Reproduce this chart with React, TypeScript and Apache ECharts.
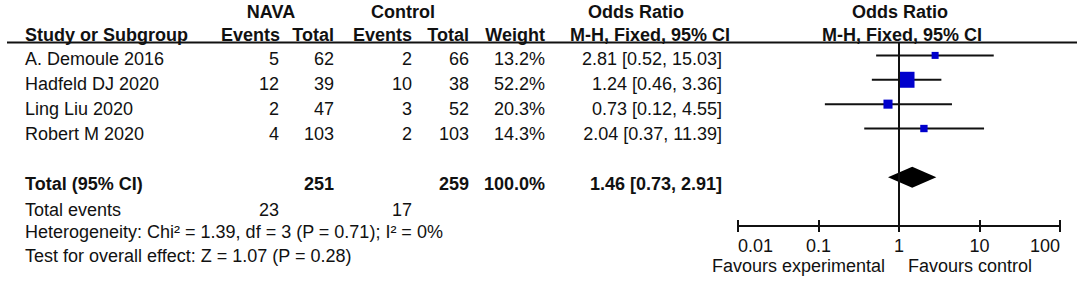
import React, { useEffect, useRef } from "react";
import * as echarts from "echarts";

const studies = ["A. Demoule 2016", "Hadfeld DJ 2020", "Ling Liu 2020", "Robert M 2020"];
const navaEvents = [5, 12, 2, 4];
const navaTotal = [62, 39, 47, 103];
const ctrlEvents = [2, 10, 3, 2];
const ctrlTotal = [66, 38, 52, 103];
const weights = [13.2, 52.2, 20.3, 14.3];
const oddsRatio = [2.81, 1.24, 0.73, 2.04];
const ciLow = [0.52, 0.46, 0.12, 0.37];
const ciHigh = [15.03, 3.36, 4.55, 11.39];
const studyRows = [0, 1, 2, 3];

const totalNava = 251;
const totalCtrl = 259;
const totalWeight = "100.0%";
const pooled = [1.46, 0.73, 2.91];
const pooledRow = 5;
const totalEventsNava = 23;
const totalEventsCtrl = 17;
const heterogeneity = "Heterogeneity: Chi² = 1.39, df = 3 (P = 0.71); I² = 0%";
const overallTest = "Test for overall effect: Z = 1.07 (P = 0.28)";
const tickLabels = ["0.01", "0.1", "1", "10", "100"];
const favourLeft = "Favours experimental";
const favourRight = "Favours control";

const FONT = "'Liberation Sans', Arial, sans-serif";
const TXT = "#111";

function T(x: number, y: number, text: string, align: string = "left", bold = false) {
  return {
    type: "text",
    x,
    y,
    silent: true,
    style: {
      text,
      fill: TXT,
      font: `${bold ? "bold " : ""}18px ${FONT}`,
      textAlign: align,
      textVerticalAlign: "middle",
    },
  };
}

const fmt = (v: number) => v.toFixed(2);
const ciText = (o: number, l: number, h: number) => `${fmt(o)} [${fmt(l)}, ${fmt(h)}]`;

export default function App() {
  const ref = useRef<HTMLDivElement>(null);
  useEffect(() => {
    if (!ref.current) return;
    const chart = echarts.init(ref.current, null, { renderer: "svg" });

    const graphics: any[] = [];
    graphics.push(T(271, 12, "NAVA", "center", true));
    graphics.push(T(403, 12, "Control", "center", true));
    graphics.push(T(636, 12, "Odds Ratio", "center", true));
    graphics.push(T(900, 12, "Odds Ratio", "center", true));
    graphics.push(T(25, 35, "Study or Subgroup", "left", true));
    graphics.push(T(280, 35, "Events", "right", true));
    graphics.push(T(334, 35, "Total", "right", true));
    graphics.push(T(412, 35, "Events", "right", true));
    graphics.push(T(469, 35, "Total", "right", true));
    graphics.push(T(545, 35, "Weight", "right", true));
    graphics.push(T(570, 35, "M-H, Fixed, 95% CI", "left", true));
    graphics.push(T(902, 35, "M-H, Fixed, 95% CI", "center", true));
    graphics.push({
      type: "line",
      silent: true,
      shape: { x1: 7, y1: 42.5, x2: 1077, y2: 42.5 },
      style: { stroke: "#111", lineWidth: 2 },
    });
    studies.forEach((s, i) => {
      const y = 58.5 + 25 * i;
      graphics.push(T(25, y, s));
      graphics.push(T(279, y, String(navaEvents[i]), "right"));
      graphics.push(T(334, y, String(navaTotal[i]), "right"));
      graphics.push(T(412, y, String(ctrlEvents[i]), "right"));
      graphics.push(T(469, y, String(ctrlTotal[i]), "right"));
      graphics.push(T(545, y, weights[i].toFixed(1) + "%", "right"));
      graphics.push(T(722, y, ciText(oddsRatio[i], ciLow[i], ciHigh[i]), "right"));
    });
    graphics.push(T(25, 183.5, "Total (95% CI)", "left", true));
    graphics.push(T(334, 183.5, String(totalNava), "right", true));
    graphics.push(T(469, 183.5, String(totalCtrl), "right", true));
    graphics.push(T(545, 183.5, totalWeight, "right", true));
    graphics.push(T(722, 183.5, ciText(pooled[0], pooled[1], pooled[2]), "right", true));
    graphics.push(T(25, 209.5, "Total events"));
    graphics.push(T(279, 209.5, String(totalEventsNava), "right"));
    graphics.push(T(412, 209.5, String(totalEventsCtrl), "right"));
    graphics.push(T(25, 232, heterogeneity));
    graphics.push(T(25, 255.5, overallTest));
    graphics.push(T(885, 266, favourLeft, "right"));
    graphics.push(T(908, 266, favourRight, "left"));

    const studyData = studies.map((_, i) => [oddsRatio[i], ciLow[i], ciHigh[i], studyRows[i], weights[i]]);

    const option: any = {
      animation: false,
      backgroundColor: "#fff",
      grid: { left: 738, width: 322, top: 42, height: 184, containLabel: false },
      xAxis: [
        {
          type: "log",
          logBase: 10,
          min: 0.01,
          max: 100,
          position: "bottom",
          axisLine: { show: true, onZero: false, lineStyle: { color: "#111", width: 2 } },
          axisTick: { show: true, inside: false, length: 6, lineStyle: { color: "#111", width: 2 } },
          splitLine: { show: false },
          minorTick: { show: false },
          axisLabel: {
            show: true,
            margin: 11,
            color: TXT,
            fontSize: 18,
            fontFamily: FONT,
            showMinLabel: true,
            showMaxLabel: true,
            alignMinLabel: "left",
            alignMaxLabel: "right",
            formatter: (v: number) => tickLabels[Math.round(Math.log10(v)) + 2] ?? "",
          },
        },
        {
          type: "log",
          logBase: 10,
          min: 0.01,
          max: 100,
          position: "bottom",
          offset: 0,
          gridIndex: 0,
          axisLine: { show: false, onZero: false },
          axisTick: { show: true, inside: true, length: 6, lineStyle: { color: "#111", width: 2 } },
          splitLine: { show: false },
          axisLabel: { show: false },
        },
      ],
      yAxis: {
        type: "value",
        inverse: true,
        min: -0.55,
        max: 7,
        show: false,
        axisLine: { onZero: false },
        splitLine: { show: false },
      },
      graphic: graphics,
      series: [
        {
          type: "line",
          data: [
            [1, -0.55],
            [1, 7],
          ],
          symbol: "none",
          lineStyle: { color: "#111", width: 2 },
          silent: true,
        },
        {
          type: "custom",
          clip: false,
          data: studyData,
          encode: { x: [0, 1, 2], y: 3 },
          renderItem: (params: any, api: any) => {
            const or = api.value(0);
            const lo = api.value(1);
            const hi = api.value(2);
            const row = api.value(3);
            const w = api.value(4);
            const p1 = api.coord([lo, row]);
            const p2 = api.coord([hi, row]);
            const c = api.coord([or, row]);
            const s = 1.49 * Math.pow(w, 0.6);
            return {
              type: "group",
              children: [
                {
                  type: "line",
                  shape: { x1: p1[0], y1: p1[1], x2: p2[0], y2: p2[1] },
                  style: { stroke: "#111", lineWidth: 2 },
                },
                {
                  type: "rect",
                  shape: { x: c[0] - s / 2, y: c[1] - s / 2, width: s, height: s },
                  style: { fill: "#0000CC" },
                },
              ],
            };
          },
        },
        {
          type: "custom",
          clip: false,
          data: [[pooled[0], pooled[1], pooled[2], pooledRow]],
          encode: { x: [0, 1, 2], y: 3 },
          renderItem: (params: any, api: any) => {
            const row = api.value(3);
            const c = api.coord([api.value(0), row]);
            const l = api.coord([api.value(1), row]);
            const r = api.coord([api.value(2), row]);
            const h = 10.5;
            return {
              type: "polygon",
              shape: {
                points: [
                  [l[0], l[1]],
                  [c[0], c[1] - h],
                  [r[0], r[1]],
                  [c[0], c[1] + h],
                ],
              },
              style: { fill: "#000" },
            };
          },
        },
      ],
    };
    chart.setOption(option);
    return () => chart.dispose();
  }, []);

  return (
    <div
      ref={ref}
      style={{ position: "fixed", left: 0, top: 0, width: 1084, height: 285, background: "#fff" }}
    />
  );
}
